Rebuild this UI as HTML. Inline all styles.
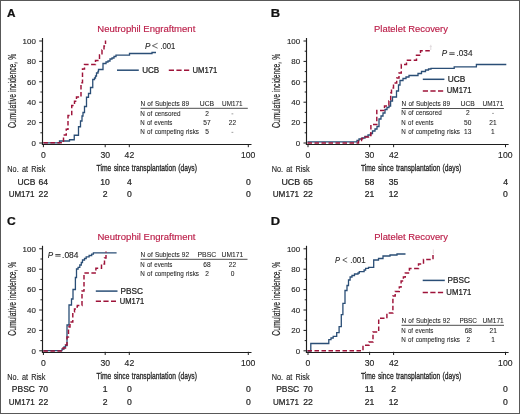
<!DOCTYPE html>
<html><head><meta charset="utf-8"><style>
html,body{margin:0;padding:0;background:#fff;}
body{width:520px;height:414px;overflow:hidden;}
svg{display:block;will-change:transform;}
text{font-family:"Liberation Sans", sans-serif;}
text.w{stroke:#262626;stroke-width:0.18px;}
</style></head><body>
<svg width="520" height="414" viewBox="0 0 520 414">
<rect x="0" y="0" width="520" height="414" fill="#fff"/>
<g fill="#262626" stroke-width="0">
<text x="7.11" y="16.90" font-size="11.6" textLength="8.50" lengthAdjust="spacingAndGlyphs" font-weight="bold" fill="#111" stroke="#111" stroke-width="0.24">A</text>
<text x="97.27" y="31.90" font-size="9.3" textLength="98.05" lengthAdjust="spacingAndGlyphs" fill="#bb1d48" stroke="#bb1d48" stroke-width="0.15">Neutrophil Engraftment</text>
<text transform="translate(15.70,127.90) rotate(-90)" x="-0.04" y="0" font-size="10.1" textLength="74.08" lengthAdjust="spacingAndGlyphs" stroke="#262626" stroke-width="0.22">Cumulative incidence, %</text>
<line x1="42.50" y1="38.00" x2="42.50" y2="145.00" stroke="#1e1e1e" stroke-width="1.15" />
<line x1="41.90" y1="144.50" x2="251.50" y2="144.50" stroke="#1e1e1e" stroke-width="1.15" />
<line x1="39.20" y1="143.00" x2="42.50" y2="143.00" stroke="#1e1e1e" stroke-width="1" />
<text x="31.45" y="145.85" font-size="8.1" textLength="4.41" lengthAdjust="spacingAndGlyphs" stroke="#262626" stroke-width="0.14">0</text>
<line x1="40.40" y1="132.80" x2="42.50" y2="132.80" stroke="#1e1e1e" stroke-width="1" />
<line x1="39.20" y1="122.60" x2="42.50" y2="122.60" stroke="#1e1e1e" stroke-width="1" />
<text x="27.03" y="125.45" font-size="8.1" textLength="8.83" lengthAdjust="spacingAndGlyphs" stroke="#262626" stroke-width="0.14">20</text>
<line x1="40.40" y1="112.40" x2="42.50" y2="112.40" stroke="#1e1e1e" stroke-width="1" />
<line x1="39.20" y1="102.20" x2="42.50" y2="102.20" stroke="#1e1e1e" stroke-width="1" />
<text x="27.03" y="105.05" font-size="8.1" textLength="8.83" lengthAdjust="spacingAndGlyphs" stroke="#262626" stroke-width="0.14">40</text>
<line x1="40.40" y1="92.00" x2="42.50" y2="92.00" stroke="#1e1e1e" stroke-width="1" />
<line x1="39.20" y1="81.80" x2="42.50" y2="81.80" stroke="#1e1e1e" stroke-width="1" />
<text x="27.03" y="84.65" font-size="8.1" textLength="8.83" lengthAdjust="spacingAndGlyphs" stroke="#262626" stroke-width="0.14">60</text>
<line x1="40.40" y1="71.60" x2="42.50" y2="71.60" stroke="#1e1e1e" stroke-width="1" />
<line x1="39.20" y1="61.40" x2="42.50" y2="61.40" stroke="#1e1e1e" stroke-width="1" />
<text x="27.03" y="64.25" font-size="8.1" textLength="8.83" lengthAdjust="spacingAndGlyphs" stroke="#262626" stroke-width="0.14">80</text>
<line x1="40.40" y1="51.20" x2="42.50" y2="51.20" stroke="#1e1e1e" stroke-width="1" />
<line x1="39.20" y1="41.00" x2="42.50" y2="41.00" stroke="#1e1e1e" stroke-width="1" />
<text x="22.62" y="43.85" font-size="8.1" textLength="13.24" lengthAdjust="spacingAndGlyphs" stroke="#262626" stroke-width="0.14">100</text>
<line x1="43.40" y1="144.00" x2="43.40" y2="147.20" stroke="#1e1e1e" stroke-width="1" />
<text x="41.00" y="157.90" font-size="8.3" textLength="4.80" lengthAdjust="spacingAndGlyphs" stroke="#262626" stroke-width="0.14">0</text>
<line x1="105.20" y1="144.00" x2="105.20" y2="147.20" stroke="#1e1e1e" stroke-width="1" />
<text x="100.40" y="157.90" font-size="8.3" textLength="9.60" lengthAdjust="spacingAndGlyphs" stroke="#262626" stroke-width="0.14">30</text>
<line x1="129.30" y1="144.00" x2="129.30" y2="147.20" stroke="#1e1e1e" stroke-width="1" />
<text x="124.62" y="157.90" font-size="8.3" textLength="9.60" lengthAdjust="spacingAndGlyphs" stroke="#262626" stroke-width="0.14">42</text>
<line x1="248.30" y1="144.00" x2="248.30" y2="147.20" stroke="#1e1e1e" stroke-width="1" />
<text x="240.94" y="157.90" font-size="8.3" textLength="14.40" lengthAdjust="spacingAndGlyphs" stroke="#262626" stroke-width="0.14">100</text>
<text x="96.60" y="171.40" font-size="9.8" textLength="100.37" lengthAdjust="spacingAndGlyphs" stroke="#262626" stroke-width="0.32" word-spacing="0.8">Time since transplantation (days)</text>
<text x="7.35" y="172.00" font-size="8.5" textLength="37.99" lengthAdjust="spacingAndGlyphs" stroke="#262626" stroke-width="0.14" word-spacing="1.4">No. at Risk</text>
<text x="270.83" y="16.90" font-size="11.6" textLength="9.35" lengthAdjust="spacingAndGlyphs" font-weight="bold" fill="#111" stroke="#111" stroke-width="0.24">B</text>
<text x="374.08" y="31.90" font-size="9.3" textLength="73.89" lengthAdjust="spacingAndGlyphs" fill="#bb1d48" stroke="#bb1d48" stroke-width="0.15">Platelet Recovery</text>
<text transform="translate(280.00,127.90) rotate(-90)" x="-0.04" y="0" font-size="10.1" textLength="74.08" lengthAdjust="spacingAndGlyphs" stroke="#262626" stroke-width="0.22">Cumulative incidence, %</text>
<line x1="306.50" y1="38.00" x2="306.50" y2="145.00" stroke="#1e1e1e" stroke-width="1.15" />
<line x1="305.90" y1="144.50" x2="508.60" y2="144.50" stroke="#1e1e1e" stroke-width="1.15" />
<line x1="303.50" y1="143.00" x2="306.50" y2="143.00" stroke="#1e1e1e" stroke-width="1" />
<text x="295.75" y="145.85" font-size="8.1" textLength="4.41" lengthAdjust="spacingAndGlyphs" stroke="#262626" stroke-width="0.14">0</text>
<line x1="304.70" y1="132.80" x2="306.50" y2="132.80" stroke="#1e1e1e" stroke-width="1" />
<line x1="303.50" y1="122.60" x2="306.50" y2="122.60" stroke="#1e1e1e" stroke-width="1" />
<text x="291.33" y="125.45" font-size="8.1" textLength="8.83" lengthAdjust="spacingAndGlyphs" stroke="#262626" stroke-width="0.14">20</text>
<line x1="304.70" y1="112.40" x2="306.50" y2="112.40" stroke="#1e1e1e" stroke-width="1" />
<line x1="303.50" y1="102.20" x2="306.50" y2="102.20" stroke="#1e1e1e" stroke-width="1" />
<text x="291.33" y="105.05" font-size="8.1" textLength="8.83" lengthAdjust="spacingAndGlyphs" stroke="#262626" stroke-width="0.14">40</text>
<line x1="304.70" y1="92.00" x2="306.50" y2="92.00" stroke="#1e1e1e" stroke-width="1" />
<line x1="303.50" y1="81.80" x2="306.50" y2="81.80" stroke="#1e1e1e" stroke-width="1" />
<text x="291.33" y="84.65" font-size="8.1" textLength="8.83" lengthAdjust="spacingAndGlyphs" stroke="#262626" stroke-width="0.14">60</text>
<line x1="304.70" y1="71.60" x2="306.50" y2="71.60" stroke="#1e1e1e" stroke-width="1" />
<line x1="303.50" y1="61.40" x2="306.50" y2="61.40" stroke="#1e1e1e" stroke-width="1" />
<text x="291.33" y="64.25" font-size="8.1" textLength="8.83" lengthAdjust="spacingAndGlyphs" stroke="#262626" stroke-width="0.14">80</text>
<line x1="304.70" y1="51.20" x2="306.50" y2="51.20" stroke="#1e1e1e" stroke-width="1" />
<line x1="303.50" y1="41.00" x2="306.50" y2="41.00" stroke="#1e1e1e" stroke-width="1" />
<text x="286.92" y="43.85" font-size="8.1" textLength="13.24" lengthAdjust="spacingAndGlyphs" stroke="#262626" stroke-width="0.14">100</text>
<line x1="308.00" y1="144.00" x2="308.00" y2="147.20" stroke="#1e1e1e" stroke-width="1" />
<text x="305.60" y="157.90" font-size="8.3" textLength="4.80" lengthAdjust="spacingAndGlyphs" stroke="#262626" stroke-width="0.14">0</text>
<line x1="369.60" y1="144.00" x2="369.60" y2="147.20" stroke="#1e1e1e" stroke-width="1" />
<text x="364.80" y="157.90" font-size="8.3" textLength="9.60" lengthAdjust="spacingAndGlyphs" stroke="#262626" stroke-width="0.14">30</text>
<line x1="393.60" y1="144.00" x2="393.60" y2="147.20" stroke="#1e1e1e" stroke-width="1" />
<text x="388.92" y="157.90" font-size="8.3" textLength="9.60" lengthAdjust="spacingAndGlyphs" stroke="#262626" stroke-width="0.14">42</text>
<line x1="505.50" y1="144.00" x2="505.50" y2="147.20" stroke="#1e1e1e" stroke-width="1" />
<text x="498.14" y="157.90" font-size="8.3" textLength="14.40" lengthAdjust="spacingAndGlyphs" stroke="#262626" stroke-width="0.14">100</text>
<text x="360.90" y="171.40" font-size="9.8" textLength="100.37" lengthAdjust="spacingAndGlyphs" stroke="#262626" stroke-width="0.32" word-spacing="0.8">Time since transplantation (days)</text>
<text x="271.65" y="172.00" font-size="8.5" textLength="37.99" lengthAdjust="spacingAndGlyphs" stroke="#262626" stroke-width="0.14" word-spacing="1.4">No. at Risk</text>
<text x="6.90" y="224.70" font-size="11.6" textLength="8.73" lengthAdjust="spacingAndGlyphs" font-weight="bold" fill="#111" stroke="#111" stroke-width="0.24">C</text>
<text x="97.47" y="239.70" font-size="9.3" textLength="98.05" lengthAdjust="spacingAndGlyphs" fill="#bb1d48" stroke="#bb1d48" stroke-width="0.15">Neutrophil Engraftment</text>
<text transform="translate(15.70,335.70) rotate(-90)" x="-0.04" y="0" font-size="10.1" textLength="74.08" lengthAdjust="spacingAndGlyphs" stroke="#262626" stroke-width="0.22">Cumulative incidence, %</text>
<line x1="42.50" y1="245.80" x2="42.50" y2="352.80" stroke="#1e1e1e" stroke-width="1.15" />
<line x1="41.90" y1="352.50" x2="251.50" y2="352.50" stroke="#1e1e1e" stroke-width="1.15" />
<line x1="39.20" y1="350.80" x2="42.50" y2="350.80" stroke="#1e1e1e" stroke-width="1" />
<text x="31.45" y="353.65" font-size="8.1" textLength="4.41" lengthAdjust="spacingAndGlyphs" stroke="#262626" stroke-width="0.14">0</text>
<line x1="40.40" y1="340.60" x2="42.50" y2="340.60" stroke="#1e1e1e" stroke-width="1" />
<line x1="39.20" y1="330.40" x2="42.50" y2="330.40" stroke="#1e1e1e" stroke-width="1" />
<text x="27.03" y="333.25" font-size="8.1" textLength="8.83" lengthAdjust="spacingAndGlyphs" stroke="#262626" stroke-width="0.14">20</text>
<line x1="40.40" y1="320.20" x2="42.50" y2="320.20" stroke="#1e1e1e" stroke-width="1" />
<line x1="39.20" y1="310.00" x2="42.50" y2="310.00" stroke="#1e1e1e" stroke-width="1" />
<text x="27.03" y="312.85" font-size="8.1" textLength="8.83" lengthAdjust="spacingAndGlyphs" stroke="#262626" stroke-width="0.14">40</text>
<line x1="40.40" y1="299.80" x2="42.50" y2="299.80" stroke="#1e1e1e" stroke-width="1" />
<line x1="39.20" y1="289.60" x2="42.50" y2="289.60" stroke="#1e1e1e" stroke-width="1" />
<text x="27.03" y="292.45" font-size="8.1" textLength="8.83" lengthAdjust="spacingAndGlyphs" stroke="#262626" stroke-width="0.14">60</text>
<line x1="40.40" y1="279.40" x2="42.50" y2="279.40" stroke="#1e1e1e" stroke-width="1" />
<line x1="39.20" y1="269.20" x2="42.50" y2="269.20" stroke="#1e1e1e" stroke-width="1" />
<text x="27.03" y="272.05" font-size="8.1" textLength="8.83" lengthAdjust="spacingAndGlyphs" stroke="#262626" stroke-width="0.14">80</text>
<line x1="40.40" y1="259.00" x2="42.50" y2="259.00" stroke="#1e1e1e" stroke-width="1" />
<line x1="39.20" y1="248.80" x2="42.50" y2="248.80" stroke="#1e1e1e" stroke-width="1" />
<text x="22.62" y="251.65" font-size="8.1" textLength="13.24" lengthAdjust="spacingAndGlyphs" stroke="#262626" stroke-width="0.14">100</text>
<line x1="43.40" y1="351.80" x2="43.40" y2="355.00" stroke="#1e1e1e" stroke-width="1" />
<text x="41.00" y="365.70" font-size="8.3" textLength="4.80" lengthAdjust="spacingAndGlyphs" stroke="#262626" stroke-width="0.14">0</text>
<line x1="105.20" y1="351.80" x2="105.20" y2="355.00" stroke="#1e1e1e" stroke-width="1" />
<text x="100.40" y="365.70" font-size="8.3" textLength="9.60" lengthAdjust="spacingAndGlyphs" stroke="#262626" stroke-width="0.14">30</text>
<line x1="129.30" y1="351.80" x2="129.30" y2="355.00" stroke="#1e1e1e" stroke-width="1" />
<text x="124.62" y="365.70" font-size="8.3" textLength="9.60" lengthAdjust="spacingAndGlyphs" stroke="#262626" stroke-width="0.14">42</text>
<line x1="248.30" y1="351.80" x2="248.30" y2="355.00" stroke="#1e1e1e" stroke-width="1" />
<text x="240.94" y="365.70" font-size="8.3" textLength="14.40" lengthAdjust="spacingAndGlyphs" stroke="#262626" stroke-width="0.14">100</text>
<text x="96.60" y="379.20" font-size="9.8" textLength="100.37" lengthAdjust="spacingAndGlyphs" stroke="#262626" stroke-width="0.32" word-spacing="0.8">Time since transplantation (days)</text>
<text x="7.35" y="379.80" font-size="8.5" textLength="37.99" lengthAdjust="spacingAndGlyphs" stroke="#262626" stroke-width="0.14" word-spacing="1.4">No. at Risk</text>
<text x="270.84" y="224.70" font-size="11.6" textLength="9.30" lengthAdjust="spacingAndGlyphs" font-weight="bold" fill="#111" stroke="#111" stroke-width="0.24">D</text>
<text x="374.28" y="239.70" font-size="9.3" textLength="73.69" lengthAdjust="spacingAndGlyphs" fill="#bb1d48" stroke="#bb1d48" stroke-width="0.15">Platelet Recovery</text>
<text transform="translate(280.00,335.70) rotate(-90)" x="-0.04" y="0" font-size="10.1" textLength="74.08" lengthAdjust="spacingAndGlyphs" stroke="#262626" stroke-width="0.22">Cumulative incidence, %</text>
<line x1="306.50" y1="245.80" x2="306.50" y2="352.80" stroke="#1e1e1e" stroke-width="1.15" />
<line x1="305.90" y1="352.50" x2="508.60" y2="352.50" stroke="#1e1e1e" stroke-width="1.15" />
<line x1="303.50" y1="350.80" x2="306.50" y2="350.80" stroke="#1e1e1e" stroke-width="1" />
<text x="295.75" y="353.65" font-size="8.1" textLength="4.41" lengthAdjust="spacingAndGlyphs" stroke="#262626" stroke-width="0.14">0</text>
<line x1="304.70" y1="340.60" x2="306.50" y2="340.60" stroke="#1e1e1e" stroke-width="1" />
<line x1="303.50" y1="330.40" x2="306.50" y2="330.40" stroke="#1e1e1e" stroke-width="1" />
<text x="291.33" y="333.25" font-size="8.1" textLength="8.83" lengthAdjust="spacingAndGlyphs" stroke="#262626" stroke-width="0.14">20</text>
<line x1="304.70" y1="320.20" x2="306.50" y2="320.20" stroke="#1e1e1e" stroke-width="1" />
<line x1="303.50" y1="310.00" x2="306.50" y2="310.00" stroke="#1e1e1e" stroke-width="1" />
<text x="291.33" y="312.85" font-size="8.1" textLength="8.83" lengthAdjust="spacingAndGlyphs" stroke="#262626" stroke-width="0.14">40</text>
<line x1="304.70" y1="299.80" x2="306.50" y2="299.80" stroke="#1e1e1e" stroke-width="1" />
<line x1="303.50" y1="289.60" x2="306.50" y2="289.60" stroke="#1e1e1e" stroke-width="1" />
<text x="291.33" y="292.45" font-size="8.1" textLength="8.83" lengthAdjust="spacingAndGlyphs" stroke="#262626" stroke-width="0.14">60</text>
<line x1="304.70" y1="279.40" x2="306.50" y2="279.40" stroke="#1e1e1e" stroke-width="1" />
<line x1="303.50" y1="269.20" x2="306.50" y2="269.20" stroke="#1e1e1e" stroke-width="1" />
<text x="291.33" y="272.05" font-size="8.1" textLength="8.83" lengthAdjust="spacingAndGlyphs" stroke="#262626" stroke-width="0.14">80</text>
<line x1="304.70" y1="259.00" x2="306.50" y2="259.00" stroke="#1e1e1e" stroke-width="1" />
<line x1="303.50" y1="248.80" x2="306.50" y2="248.80" stroke="#1e1e1e" stroke-width="1" />
<text x="286.92" y="251.65" font-size="8.1" textLength="13.24" lengthAdjust="spacingAndGlyphs" stroke="#262626" stroke-width="0.14">100</text>
<line x1="308.00" y1="351.80" x2="308.00" y2="355.00" stroke="#1e1e1e" stroke-width="1" />
<text x="305.60" y="365.70" font-size="8.3" textLength="4.80" lengthAdjust="spacingAndGlyphs" stroke="#262626" stroke-width="0.14">0</text>
<line x1="369.60" y1="351.80" x2="369.60" y2="355.00" stroke="#1e1e1e" stroke-width="1" />
<text x="364.80" y="365.70" font-size="8.3" textLength="9.60" lengthAdjust="spacingAndGlyphs" stroke="#262626" stroke-width="0.14">30</text>
<line x1="393.60" y1="351.80" x2="393.60" y2="355.00" stroke="#1e1e1e" stroke-width="1" />
<text x="388.92" y="365.70" font-size="8.3" textLength="9.60" lengthAdjust="spacingAndGlyphs" stroke="#262626" stroke-width="0.14">42</text>
<line x1="505.50" y1="351.80" x2="505.50" y2="355.00" stroke="#1e1e1e" stroke-width="1" />
<text x="498.14" y="365.70" font-size="8.3" textLength="14.40" lengthAdjust="spacingAndGlyphs" stroke="#262626" stroke-width="0.14">100</text>
<text x="360.90" y="379.20" font-size="9.8" textLength="100.37" lengthAdjust="spacingAndGlyphs" stroke="#262626" stroke-width="0.32" word-spacing="0.8">Time since transplantation (days)</text>
<text x="271.65" y="379.80" font-size="8.5" textLength="37.99" lengthAdjust="spacingAndGlyphs" stroke="#262626" stroke-width="0.14" word-spacing="1.4">No. at Risk</text>
<text x="17.50" y="184.60" font-size="8.8" textLength="17.90" lengthAdjust="spacingAndGlyphs" stroke="#262626" stroke-width="0.24">UCB</text>
<text x="38.51" y="184.60" font-size="8.8" textLength="9.59" lengthAdjust="spacingAndGlyphs" stroke="#262626" stroke-width="0.24">64</text>
<text x="100.24" y="184.60" font-size="8.8" textLength="9.59" lengthAdjust="spacingAndGlyphs" stroke="#262626" stroke-width="0.24">10</text>
<text x="126.93" y="184.60" font-size="8.8" textLength="4.80" lengthAdjust="spacingAndGlyphs" stroke="#262626" stroke-width="0.24">4</text>
<text x="245.90" y="184.60" font-size="8.8" textLength="4.80" lengthAdjust="spacingAndGlyphs" stroke="#262626" stroke-width="0.24">0</text>
<text x="8.63" y="196.85" font-size="8.8" textLength="25.91" lengthAdjust="spacingAndGlyphs" stroke="#262626" stroke-width="0.24">UM171</text>
<text x="38.60" y="196.85" font-size="8.8" textLength="9.59" lengthAdjust="spacingAndGlyphs" stroke="#262626" stroke-width="0.24">22</text>
<text x="102.80" y="196.85" font-size="8.8" textLength="4.80" lengthAdjust="spacingAndGlyphs" stroke="#262626" stroke-width="0.24">2</text>
<text x="126.90" y="196.85" font-size="8.8" textLength="4.80" lengthAdjust="spacingAndGlyphs" stroke="#262626" stroke-width="0.24">0</text>
<text x="245.90" y="196.85" font-size="8.8" textLength="4.80" lengthAdjust="spacingAndGlyphs" stroke="#262626" stroke-width="0.24">0</text>
<text x="281.47" y="184.60" font-size="8.8" textLength="18.65" lengthAdjust="spacingAndGlyphs" stroke="#262626" stroke-width="0.24">UCB</text>
<text x="303.17" y="184.60" font-size="8.8" textLength="9.59" lengthAdjust="spacingAndGlyphs" stroke="#262626" stroke-width="0.24">65</text>
<text x="364.82" y="184.60" font-size="8.8" textLength="9.59" lengthAdjust="spacingAndGlyphs" stroke="#262626" stroke-width="0.24">58</text>
<text x="388.82" y="184.60" font-size="8.8" textLength="9.59" lengthAdjust="spacingAndGlyphs" stroke="#262626" stroke-width="0.24">35</text>
<text x="503.13" y="184.60" font-size="8.8" textLength="4.80" lengthAdjust="spacingAndGlyphs" stroke="#262626" stroke-width="0.24">4</text>
<text x="272.72" y="196.85" font-size="8.8" textLength="26.33" lengthAdjust="spacingAndGlyphs" stroke="#262626" stroke-width="0.24">UM171</text>
<text x="303.20" y="196.85" font-size="8.8" textLength="9.59" lengthAdjust="spacingAndGlyphs" stroke="#262626" stroke-width="0.24">22</text>
<text x="364.80" y="196.85" font-size="8.8" textLength="9.59" lengthAdjust="spacingAndGlyphs" stroke="#262626" stroke-width="0.24">21</text>
<text x="388.69" y="196.85" font-size="8.8" textLength="9.59" lengthAdjust="spacingAndGlyphs" stroke="#262626" stroke-width="0.24">12</text>
<text x="503.10" y="196.85" font-size="8.8" textLength="4.80" lengthAdjust="spacingAndGlyphs" stroke="#262626" stroke-width="0.24">0</text>
<text x="11.85" y="392.40" font-size="8.8" textLength="23.12" lengthAdjust="spacingAndGlyphs" stroke="#262626" stroke-width="0.24">PBSC</text>
<text x="38.55" y="392.40" font-size="8.8" textLength="9.59" lengthAdjust="spacingAndGlyphs" stroke="#262626" stroke-width="0.24">70</text>
<text x="102.68" y="392.40" font-size="8.8" textLength="4.80" lengthAdjust="spacingAndGlyphs" stroke="#262626" stroke-width="0.24">1</text>
<text x="126.90" y="392.40" font-size="8.8" textLength="4.80" lengthAdjust="spacingAndGlyphs" stroke="#262626" stroke-width="0.24">0</text>
<text x="245.90" y="392.40" font-size="8.8" textLength="4.80" lengthAdjust="spacingAndGlyphs" stroke="#262626" stroke-width="0.24">0</text>
<text x="8.73" y="404.65" font-size="8.8" textLength="25.91" lengthAdjust="spacingAndGlyphs" stroke="#262626" stroke-width="0.24">UM171</text>
<text x="38.60" y="404.65" font-size="8.8" textLength="9.59" lengthAdjust="spacingAndGlyphs" stroke="#262626" stroke-width="0.24">22</text>
<text x="102.80" y="404.65" font-size="8.8" textLength="4.80" lengthAdjust="spacingAndGlyphs" stroke="#262626" stroke-width="0.24">2</text>
<text x="126.90" y="404.65" font-size="8.8" textLength="4.80" lengthAdjust="spacingAndGlyphs" stroke="#262626" stroke-width="0.24">0</text>
<text x="245.90" y="404.65" font-size="8.8" textLength="4.80" lengthAdjust="spacingAndGlyphs" stroke="#262626" stroke-width="0.24">0</text>
<text x="276.15" y="392.40" font-size="8.8" textLength="23.12" lengthAdjust="spacingAndGlyphs" stroke="#262626" stroke-width="0.24">PBSC</text>
<text x="303.15" y="392.40" font-size="8.8" textLength="9.59" lengthAdjust="spacingAndGlyphs" stroke="#262626" stroke-width="0.24">70</text>
<text x="364.69" y="392.40" font-size="8.8" textLength="9.59" lengthAdjust="spacingAndGlyphs" stroke="#262626" stroke-width="0.24">11</text>
<text x="391.20" y="392.40" font-size="8.8" textLength="4.80" lengthAdjust="spacingAndGlyphs" stroke="#262626" stroke-width="0.24">2</text>
<text x="503.10" y="392.40" font-size="8.8" textLength="4.80" lengthAdjust="spacingAndGlyphs" stroke="#262626" stroke-width="0.24">0</text>
<text x="273.03" y="404.65" font-size="8.8" textLength="25.91" lengthAdjust="spacingAndGlyphs" stroke="#262626" stroke-width="0.24">UM171</text>
<text x="303.20" y="404.65" font-size="8.8" textLength="9.59" lengthAdjust="spacingAndGlyphs" stroke="#262626" stroke-width="0.24">22</text>
<text x="364.80" y="404.65" font-size="8.8" textLength="9.59" lengthAdjust="spacingAndGlyphs" stroke="#262626" stroke-width="0.24">21</text>
<text x="388.69" y="404.65" font-size="8.8" textLength="9.59" lengthAdjust="spacingAndGlyphs" stroke="#262626" stroke-width="0.24">12</text>
<text x="503.10" y="404.65" font-size="8.8" textLength="4.80" lengthAdjust="spacingAndGlyphs" stroke="#262626" stroke-width="0.24">0</text>
<text x="140.52" y="105.50" font-size="6.7" textLength="48.54" lengthAdjust="spacingAndGlyphs" stroke="#262626" stroke-width="0.08" word-spacing="0.4">N of Subjects 89</text>
<text x="199.72" y="105.50" font-size="6.6" textLength="14.38" lengthAdjust="spacingAndGlyphs" stroke="#262626" stroke-width="0.08">UCB</text>
<text x="222.06" y="105.50" font-size="6.6" textLength="20.50" lengthAdjust="spacingAndGlyphs" stroke="#262626" stroke-width="0.08">UM171</text>
<line x1="140.50" y1="108.30" x2="247.80" y2="108.30" stroke="#3a3a3a" stroke-width="0.9" />
<text x="140.23" y="115.75" font-size="6.7" textLength="40.42" lengthAdjust="spacingAndGlyphs" stroke="#262626" stroke-width="0.08" word-spacing="0.6">N of censored</text>
<text x="205.16" y="115.75" font-size="6.6" textLength="3.67" lengthAdjust="spacingAndGlyphs" stroke="#262626" stroke-width="0.08">2</text>
<line x1="231.50" y1="113.85" x2="233.30" y2="113.85" stroke="#888" stroke-width="0.8" />
<text x="140.25" y="125.00" font-size="6.7" textLength="32.12" lengthAdjust="spacingAndGlyphs" stroke="#262626" stroke-width="0.08" word-spacing="0.6">N of events</text>
<text x="203.36" y="125.00" font-size="6.6" textLength="7.34" lengthAdjust="spacingAndGlyphs" stroke="#262626" stroke-width="0.08">57</text>
<text x="228.73" y="125.00" font-size="6.6" textLength="7.34" lengthAdjust="spacingAndGlyphs" stroke="#262626" stroke-width="0.08">22</text>
<text x="140.23" y="134.25" font-size="6.7" textLength="58.74" lengthAdjust="spacingAndGlyphs" stroke="#262626" stroke-width="0.08" word-spacing="0.6">N of competing risks</text>
<text x="205.17" y="134.25" font-size="6.6" textLength="3.67" lengthAdjust="spacingAndGlyphs" stroke="#262626" stroke-width="0.08">5</text>
<line x1="231.50" y1="132.35" x2="233.30" y2="132.35" stroke="#888" stroke-width="0.8" />
<text x="401.62" y="105.70" font-size="6.7" textLength="48.43" lengthAdjust="spacingAndGlyphs" stroke="#262626" stroke-width="0.08" word-spacing="0.4">N of Subjects 89</text>
<text x="460.53" y="105.70" font-size="6.6" textLength="14.28" lengthAdjust="spacingAndGlyphs" stroke="#262626" stroke-width="0.08">UCB</text>
<text x="482.55" y="105.70" font-size="6.6" textLength="20.71" lengthAdjust="spacingAndGlyphs" stroke="#262626" stroke-width="0.08">UM171</text>
<line x1="401.60" y1="108.50" x2="503.90" y2="108.50" stroke="#3a3a3a" stroke-width="0.9" />
<text x="401.33" y="115.30" font-size="6.7" textLength="40.42" lengthAdjust="spacingAndGlyphs" stroke="#262626" stroke-width="0.08" word-spacing="0.6">N of censored</text>
<text x="465.91" y="115.30" font-size="6.6" textLength="3.67" lengthAdjust="spacingAndGlyphs" stroke="#262626" stroke-width="0.08">2</text>
<line x1="492.10" y1="113.40" x2="493.90" y2="113.40" stroke="#888" stroke-width="0.8" />
<text x="401.35" y="124.55" font-size="6.7" textLength="32.12" lengthAdjust="spacingAndGlyphs" stroke="#262626" stroke-width="0.08" word-spacing="0.6">N of events</text>
<text x="464.08" y="124.55" font-size="6.6" textLength="7.34" lengthAdjust="spacingAndGlyphs" stroke="#262626" stroke-width="0.08">50</text>
<text x="489.32" y="124.55" font-size="6.6" textLength="7.34" lengthAdjust="spacingAndGlyphs" stroke="#262626" stroke-width="0.08">21</text>
<text x="401.33" y="133.80" font-size="6.7" textLength="58.64" lengthAdjust="spacingAndGlyphs" stroke="#262626" stroke-width="0.08" word-spacing="0.6">N of competing risks</text>
<text x="463.97" y="133.80" font-size="6.6" textLength="7.34" lengthAdjust="spacingAndGlyphs" stroke="#262626" stroke-width="0.08">13</text>
<text x="491.07" y="133.80" font-size="6.6" textLength="3.67" lengthAdjust="spacingAndGlyphs" stroke="#262626" stroke-width="0.08">1</text>
<text x="140.52" y="256.50" font-size="6.7" textLength="48.55" lengthAdjust="spacingAndGlyphs" stroke="#262626" stroke-width="0.08" word-spacing="0.4">N of Subjects 92</text>
<text x="197.43" y="256.50" font-size="6.6" textLength="18.83" lengthAdjust="spacingAndGlyphs" stroke="#262626" stroke-width="0.08">PBSC</text>
<text x="221.63" y="256.50" font-size="6.6" textLength="21.54" lengthAdjust="spacingAndGlyphs" stroke="#262626" stroke-width="0.08">UM171</text>
<line x1="140.50" y1="259.30" x2="247.50" y2="259.30" stroke="#3a3a3a" stroke-width="0.9" />
<text x="140.25" y="267.00" font-size="6.7" textLength="32.12" lengthAdjust="spacingAndGlyphs" stroke="#262626" stroke-width="0.08" word-spacing="0.6">N of events</text>
<text x="203.31" y="267.00" font-size="6.6" textLength="7.34" lengthAdjust="spacingAndGlyphs" stroke="#262626" stroke-width="0.08">68</text>
<text x="228.83" y="267.00" font-size="6.6" textLength="7.34" lengthAdjust="spacingAndGlyphs" stroke="#262626" stroke-width="0.08">22</text>
<text x="140.23" y="276.10" font-size="6.7" textLength="58.74" lengthAdjust="spacingAndGlyphs" stroke="#262626" stroke-width="0.08" word-spacing="0.6">N of competing risks</text>
<text x="205.16" y="276.10" font-size="6.6" textLength="3.67" lengthAdjust="spacingAndGlyphs" stroke="#262626" stroke-width="0.08">2</text>
<text x="230.66" y="276.10" font-size="6.6" textLength="3.67" lengthAdjust="spacingAndGlyphs" stroke="#262626" stroke-width="0.08">0</text>
<text x="401.52" y="322.50" font-size="6.7" textLength="48.55" lengthAdjust="spacingAndGlyphs" stroke="#262626" stroke-width="0.08" word-spacing="0.4">N of Subjects 92</text>
<text x="459.42" y="322.50" font-size="6.6" textLength="17.58" lengthAdjust="spacingAndGlyphs" stroke="#262626" stroke-width="0.08">PBSC</text>
<text x="482.54" y="322.50" font-size="6.6" textLength="21.23" lengthAdjust="spacingAndGlyphs" stroke="#262626" stroke-width="0.08">UM171</text>
<line x1="401.50" y1="325.30" x2="504.00" y2="325.30" stroke="#3a3a3a" stroke-width="0.9" />
<text x="401.25" y="332.50" font-size="6.7" textLength="32.12" lengthAdjust="spacingAndGlyphs" stroke="#262626" stroke-width="0.08" word-spacing="0.6">N of events</text>
<text x="464.66" y="332.50" font-size="6.6" textLength="7.34" lengthAdjust="spacingAndGlyphs" stroke="#262626" stroke-width="0.08">68</text>
<text x="489.57" y="332.50" font-size="6.6" textLength="7.34" lengthAdjust="spacingAndGlyphs" stroke="#262626" stroke-width="0.08">21</text>
<text x="401.23" y="341.50" font-size="6.7" textLength="58.74" lengthAdjust="spacingAndGlyphs" stroke="#262626" stroke-width="0.08" word-spacing="0.6">N of competing risks</text>
<text x="466.51" y="341.50" font-size="6.6" textLength="3.67" lengthAdjust="spacingAndGlyphs" stroke="#262626" stroke-width="0.08">2</text>
<text x="491.32" y="341.50" font-size="6.6" textLength="3.67" lengthAdjust="spacingAndGlyphs" stroke="#262626" stroke-width="0.08">1</text>
<text x="144.90" y="48.60" font-size="8.5" textLength="5.40" lengthAdjust="spacingAndGlyphs" font-style="italic" stroke="#262626" stroke-width="0.12">P</text>
<path d="M157.60,43.30 L152.40,45.75 L157.60,48.20" fill="none" stroke="#333" stroke-width="0.75"/>
<text x="160.45" y="48.60" font-size="8.5" textLength="14.87" lengthAdjust="spacingAndGlyphs" stroke="#262626" stroke-width="0.12">.001</text>
<text x="441.70" y="56.00" font-size="8.5" textLength="5.40" lengthAdjust="spacingAndGlyphs" font-style="italic" stroke="#262626" stroke-width="0.12">P</text>
<line x1="449.30" y1="52.80" x2="454.60" y2="52.80" stroke="#333" stroke-width="0.85" />
<line x1="449.30" y1="54.40" x2="454.60" y2="54.40" stroke="#333" stroke-width="0.85" />
<text x="456.50" y="56.00" font-size="8.5" textLength="15.99" lengthAdjust="spacingAndGlyphs" stroke="#262626" stroke-width="0.12">.034</text>
<text x="47.70" y="257.60" font-size="8.5" textLength="5.40" lengthAdjust="spacingAndGlyphs" font-style="italic" stroke="#262626" stroke-width="0.12">P</text>
<line x1="55.30" y1="254.50" x2="60.60" y2="254.50" stroke="#333" stroke-width="0.85" />
<line x1="55.30" y1="256.10" x2="60.60" y2="256.10" stroke="#333" stroke-width="0.85" />
<text x="62.08" y="257.60" font-size="8.5" textLength="16.42" lengthAdjust="spacingAndGlyphs" stroke="#262626" stroke-width="0.12">.084</text>
<text x="335.12" y="262.70" font-size="8.5" textLength="4.98" lengthAdjust="spacingAndGlyphs" font-style="italic" stroke="#262626" stroke-width="0.12">P</text>
<path d="M347.20,257.70 L342.80,260.00 L347.20,262.30" fill="none" stroke="#333" stroke-width="0.75"/>
<text x="350.22" y="262.70" font-size="8.5" textLength="15.52" lengthAdjust="spacingAndGlyphs" stroke="#262626" stroke-width="0.12">.001</text>
<path d="M117.0,70.2 H138.8" fill="none" stroke="#2a4e76" stroke-width="1.5"/>
<text x="142.13" y="72.60" font-size="8.2" textLength="17.05" lengthAdjust="spacingAndGlyphs" stroke="#262626" stroke-width="0.24">UCB</text>
<path d="M168.8,70.2 H189.5" fill="none" stroke="#9e1339" stroke-width="1.5" stroke-dasharray="5.2,2.4"/>
<text x="192.45" y="72.60" font-size="8.2" textLength="24.87" lengthAdjust="spacingAndGlyphs" stroke="#262626" stroke-width="0.24">UM171</text>
<path d="M422.8,79.3 H444.4" fill="none" stroke="#2a4e76" stroke-width="1.5"/>
<text x="447.71" y="82.00" font-size="8.2" textLength="17.58" lengthAdjust="spacingAndGlyphs" stroke="#262626" stroke-width="0.24">UCB</text>
<path d="M422.8,91.1 H444.2" fill="none" stroke="#9e1339" stroke-width="1.5" stroke-dasharray="5.2,2.4"/>
<text x="446.76" y="93.40" font-size="8.2" textLength="24.66" lengthAdjust="spacingAndGlyphs" stroke="#262626" stroke-width="0.24">UM171</text>
<path d="M95.8,291.1 H117.5" fill="none" stroke="#2a4e76" stroke-width="1.5"/>
<text x="120.57" y="293.60" font-size="8.2" textLength="22.49" lengthAdjust="spacingAndGlyphs" stroke="#262626" stroke-width="0.24">PBSC</text>
<path d="M95.8,301.2 H116.0" fill="none" stroke="#9e1339" stroke-width="1.5" stroke-dasharray="5.2,2.4"/>
<text x="119.66" y="303.60" font-size="8.2" textLength="24.46" lengthAdjust="spacingAndGlyphs" stroke="#262626" stroke-width="0.24">UM171</text>
<path d="M422.7,280.4 H444.8" fill="none" stroke="#2a4e76" stroke-width="1.5"/>
<text x="447.58" y="283.30" font-size="8.2" textLength="22.28" lengthAdjust="spacingAndGlyphs" stroke="#262626" stroke-width="0.24">PBSC</text>
<path d="M422.7,292.5 H444.6" fill="none" stroke="#9e1339" stroke-width="1.5" stroke-dasharray="5.2,2.4"/>
<text x="446.35" y="295.30" font-size="8.2" textLength="24.98" lengthAdjust="spacingAndGlyphs" stroke="#262626" stroke-width="0.24">UM171</text>
<path d="M43.4,142.8 H59.5 V141 H69.5 V139.75 H74.25 V135.25 H78.5 V126.75 H80.5 V121 H82 V116 H83 V112.5 H84.5 V106.5 H86.5 V97.25 H88.5 V93.5 H90.5 V87.5 H92.75 V79.5 H94.5 V78 H95.5 V76 H96.5 V73 H98 V71.5 H98.5 V69.5 H103 V63.5 H106 V62 H108 V61 H110 V59 H112 V58 H114 V56.5 H116 V55.2 H129.5 V53.5 H152 V52.5 H156" fill="none" stroke="#2a4e76" stroke-width="1.3"/>
<path d="M43.4,142.8 H63.5 V135 H66.25 V129.25 H68 V115.5 H71.75 V105.5 H74.5 V101.25 H76.5 V97 H81 V82.7 H82.5 V69 H84.5 V64.5 H95.5 V60.5 H99.5 V55 H102 V50 H104 V46 H105.5 V40.5" fill="none" stroke="#9e1339" stroke-width="1.45" stroke-dasharray="4.5,2.5"/>
<path d="M307.5,141.9 H357 V140.5 H359 V139 H362 V138 H365 V136.5 H368 V135 H370.5 V133.5 H372.5 V131 H375 V129 H377 V126.5 H379 V119 H381 V116 H383 V113 H385 V109.5 H387 V107.5 H389 V106 H390.6 V101 H392.5 V97 H396.5 V91 H398.5 V85 H400 V80.5 H403 V78.5 H406 V77 H409 V75.5 H418 V73.5 H421.5 V71.5 H425.5 V70 H428.5 V69 H431 V68.4 H454.2 V66.8 H476.4 V64.5 H506.3" fill="none" stroke="#2a4e76" stroke-width="1.3"/>
<path d="M307.5,143.0 H358.5 V140.5 H361.5 V138.5 H365 V137 H368.5 V135.5 H370.9 V124.5 H376.8 V110.5 H384.5 V106 H388.9 V101 H390.7 V93 H391.5 V88 H393.5 V83 H396.7 V78 H399 V73 H401.3 V64.5 H406.5 V60.2 H416.5 V55.3 H420.5 V50.8 H431" fill="none" stroke="#9e1339" stroke-width="1.45" stroke-dasharray="4.5,2.5"/>
<path d="M43.4,350.7 H62 V349 H64 V347 H65.5 V345.5 H67 V325 H69 V305 H71.5 V299 H73 V289.5 H75.4 V277.5 H76.5 V269 H78.1 V267.3 H79.8 V265 H81.3 V262.5 H82.5 V260 H84.5 V258.5 H86.2 V256.8 H89.1 V255.5 H91.7 V254.2 H93.4 V252.8 H116.6" fill="none" stroke="#2a4e76" stroke-width="1.3"/>
<path d="M43.4,351 H63 V348 H65.5 V345 H67 V337 H68.5 V327 H70 V322 H72.8 V312 H74.5 V309 H76 V307 H77.3 V305.5 H82 V291 H84 V273 H95.9 V268.3 H101.5 V264 H104.5 V258 H106 V251.5" fill="none" stroke="#9e1339" stroke-width="1.45" stroke-dasharray="4.5,2.5"/>
<path d="M307.5,351 H310.8 V343.5 H328.8 V339.7 H331 V338 H333.2 V336.4 H336.7 V332.6 H339.1 V326.6 H341.3 V314.7 H342.9 V303.3 H345 V290.5 H347 V285.5 H348.5 V280 H350.1 V277 H352 V275.5 H354.5 V274 H358 V273 H359.3 V271.7 H364.1 V270 H365.6 V268.3 H368.5 V267.3 H373.7 V260 H378.5 V258.5 H383 V256 H390 V255 H397 V254 H405.5" fill="none" stroke="#2a4e76" stroke-width="1.3"/>
<path d="M307.5,350.8 H363 V345.3 H369 V342 H373 V332 H378.7 V318.3 H386.9 V313 H392.9 V296 H395.2 V291.4 H399.3 V287 H401.1 V281 H403.4 V277 H405.3 V273 H409.4 V268.4 H418.5 V264 H423.5 V259.5 H433 V255" fill="none" stroke="#9e1339" stroke-width="1.45" stroke-dasharray="4.5,2.5"/>
<line x1="430.80" y1="44.80" x2="430.80" y2="50.00" stroke="#c9c0c4" stroke-width="0.6" />
<line x1="429.60" y1="46.50" x2="432.00" y2="46.50" stroke="#d8d2d4" stroke-width="0.5" />
<line x1="433.30" y1="249.50" x2="433.30" y2="254.00" stroke="#d0b8c0" stroke-width="0.6" />
</g>
<rect x="0.5" y="0.5" width="519" height="413" fill="none" stroke="#585858" stroke-width="1"/>
</svg>
</body></html>
